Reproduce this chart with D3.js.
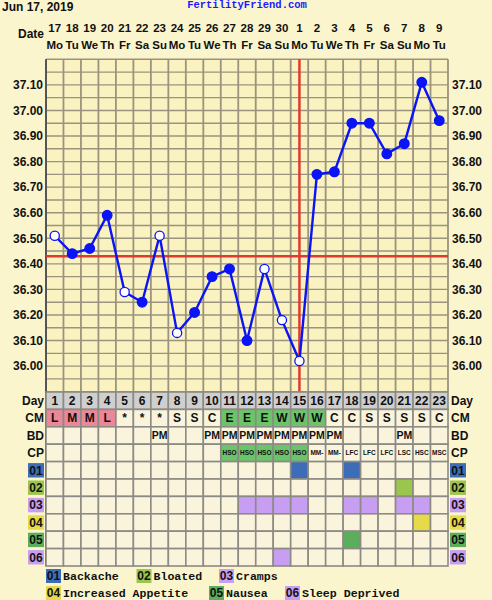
<!DOCTYPE html>
<html>
<head>
<meta charset="UTF-8">
<style>
  body { margin:0; background:#fbf5cd; }
  svg { display:block; }
  .lbl { font-family:"Liberation Sans",Arial,sans-serif; font-weight:bold; fill:#111; }
  .mono { font-family:"Liberation Mono","Courier New",monospace; font-weight:bold; }
</style>
</head>
<body>
<svg id="chart" width="492" height="600"></svg>
<script src="https://cdnjs.cloudflare.com/ajax/libs/d3/7.8.5/d3.min.js"></script>
<script>

// ---- data ----
var days = d3.range(1, 24);
var dates = [17,18,19,20,21,22,23,24,25,26,27,28,29,30,1,2,3,4,5,6,7,8,9];
var weekdays = ["Mo","Tu","We","Th","Fr","Sa","Su","Mo","Tu","We","Th","Fr","Sa","Su","Mo","Tu","We","Th","Fr","Sa","Su","Mo","Tu"];
var temps = [36.51,36.44,36.46,36.59,36.29,36.25,36.51,36.13,36.21,36.35,36.38,36.10,36.38,36.18,36.02,36.75,36.76,36.95,36.95,36.83,36.87,37.11,36.96];
var openDays = [1,5,7,8,13,14,15];
var coverline = 36.43;
var ovulationDay = 15;
var tempTicks = [36.00,36.10,36.20,36.30,36.40,36.50,36.60,36.70,36.80,36.90,37.00,37.10];

var cm = ["L","M","M","L","*","*","*","S","S","C","E","E","E","W","W","W","C","C","S","S","S","S","C"];
var bd = ["","","","","","","PM","","","PM","PM","PM","PM","PM","PM","PM","PM","","","","PM","",""];
var cp = ["","","","","","","","","","","HSO","HSO","HSO","HSO","HSO","MM-","MM-","LFC","LFC","LFC","LSC","HSC","MSC"];

var symCodes = ["01","02","03","04","05","06"];
var symNames = ["Backache","Bloated","Cramps","Increased Appetite","Nausea","Sleep Deprived"];
var symColors = ["#3d6db6","#9cc54e","#c79ef2","#e4da4a","#5cae5c","#c79ef2"];
var symDays = [[15,18],[21],[12,13,14,15,18,19,21,22],[22],[18],[14]];

var cmColor = {L:"#ec8798", M:"#ec8798", E:"#6cc46a", W:"#6cc46a"};

// ---- layout ----
var svg = d3.select("#chart");
var x = d3.scaleBand().domain(days).range([46, 448]);
var y = d3.scaleLinear().domain([35.90, 37.20]).range([391.7, 59.3]);
var rowNames = ["Day","CM","BD","CP"].concat(symCodes);
var r = d3.scaleBand().domain(rowNames).range([392, 566]);

// header
svg.append("text").attr("class","lbl").attr("x",2).attr("y",10.5)
  .style("font-size","12px").text("Jun 17, 2019");
svg.append("text").attr("class","mono").attr("x",247).attr("y",8)
  .attr("text-anchor","middle").style("font-size","10.5px").attr("fill","#1a1aff")
  .text("FertilityFriend.com");

svg.append("text").attr("class","lbl").attr("x",44).attr("y",38)
  .attr("text-anchor","end").style("font-size","12px").text("Date");
svg.append("g").selectAll("text").data(days).enter().append("text")
  .attr("class","lbl").attr("x", d => x(d) + x.bandwidth()/2).attr("y",32)
  .attr("text-anchor","middle").style("font-size","11.5px")
  .text((d,i) => dates[i]);
svg.append("g").selectAll("text").data(days).enter().append("text")
  .attr("class","lbl").attr("x", d => x(d) + x.bandwidth()/2).attr("y",49)
  .attr("text-anchor","middle").style("font-size","11.5px")
  .text((d,i) => weekdays[i]);

// plot background + grid
svg.append("rect").attr("x",46).attr("y",y(37.20)).attr("width",402)
  .attr("height", y(35.90) - y(37.20)).attr("fill","#faf2c0");

var hLines = d3.range(0, 27).map(i => 35.90 + i*0.05);
svg.append("g").selectAll("line").data(hLines).enter().append("line")
  .attr("x1",46).attr("x2",448).attr("y1", d => y(d)).attr("y2", d => y(d))
  .attr("stroke","#9a947e").attr("stroke-width",1.4);
svg.append("g").selectAll("line").data(days.concat([24])).enter().append("line")
  .attr("x1", d => d === 24 ? 448 : x(d)).attr("x2", d => d === 24 ? 448 : x(d))
  .attr("y1", y(37.20)).attr("y2", y(35.90))
  .attr("stroke","#9a947e").attr("stroke-width",1.8);
svg.append("line").attr("x1",46).attr("x2",46).attr("y1",y(37.20)).attr("y2",566)
  .attr("stroke","#555").attr("stroke-width",2);

// temperature labels, both sides
var yl = svg.append("g").attr("transform","translate(43,0)")
  .call(d3.axisLeft(y).tickValues(tempTicks).tickSize(0).tickPadding(0).tickFormat(d3.format(".2f")));
var yr = svg.append("g").attr("transform","translate(452,0)")
  .call(d3.axisRight(y).tickValues(tempTicks).tickSize(0).tickPadding(0).tickFormat(d3.format(".2f")));
[yl, yr].forEach(function(g){
  g.select(".domain").remove();
  g.selectAll("text").attr("class","lbl").style("font-size","12px").attr("fill","#111");
});

// cover line + ovulation line
svg.append("line").attr("x1",46).attr("x2",448).attr("y1",y(coverline)).attr("y2",y(coverline))
  .attr("stroke","#e03a30").attr("stroke-width",2.5);
var ox = x(ovulationDay) + x.bandwidth()/2;
svg.append("line").attr("x1",ox).attr("x2",ox).attr("y1",y(37.20)).attr("y2",y(35.90))
  .attr("stroke","#e03a30").attr("stroke-width",2.5);

// temperature line
var pts = days.map((d,i) => ({day:d, t:temps[i], open: openDays.indexOf(d) >= 0}));
var line = d3.line().x(d => x(d.day) + x.bandwidth()/2).y(d => y(d.t));
svg.append("path").datum(pts).attr("d", line).attr("fill","none")
  .attr("stroke","#0a14f5").attr("stroke-width",2.4);
svg.append("g").selectAll("circle").data(pts).enter().append("circle")
  .attr("cx", d => x(d.day) + x.bandwidth()/2).attr("cy", d => y(d.t))
  .attr("r", d => d.open ? 4.6 : 4.8)
  .attr("fill", d => d.open ? "#ffffff" : "#0a14f5")
  .attr("stroke","#0a14f5").attr("stroke-width",1.3);

// ---- table ----
var cells = [];
days.forEach(function(d,i){
  cells.push({row:"Day", day:d, fill:"#cfcfcf", text:String(d), size:"12px"});
  cells.push({row:"CM", day:d, fill: cmColor[cm[i]] || "#fbf4dd", text:cm[i], size:"12px"});
  cells.push({row:"BD", day:d, fill:"#fbf4dd", text:bd[i], size:"10.5px"});
  cells.push({row:"CP", day:d, fill: cp[i] === "HSO" ? "#6cc46a" : "#fbf4dd", text:cp[i], size:"6.5px"});
  symCodes.forEach(function(c,k){
    cells.push({row:c, day:d, fill: symDays[k].indexOf(d) >= 0 ? symColors[k] : "#fbf4dd", text:""});
  });
});
var cg = svg.append("g").selectAll("g").data(cells).enter().append("g");
cg.append("rect")
  .attr("x", d => x(d.day)).attr("y", d => r(d.row))
  .attr("width", x.bandwidth()).attr("height", r.bandwidth())
  .attr("fill", d => d.fill).attr("stroke","#8c8a84").attr("stroke-width",1.6);
cg.append("text").attr("class","lbl")
  .attr("x", d => x(d.day) + x.bandwidth()/2)
  .attr("y", d => r(d.row) + r.bandwidth()/2)
  .attr("dy","0.36em").attr("text-anchor","middle")
  .style("font-size", d => d.size || "11px")
  .text(d => d.text);

// row labels left / right
var textRows = ["Day","CM","BD","CP"];
svg.append("g").selectAll("text").data(textRows).enter().append("text")
  .attr("class","lbl").attr("x",44).attr("y", d => r(d) + r.bandwidth()/2).attr("dy","0.36em")
  .attr("text-anchor","end").style("font-size","12px").text(d => d);
svg.append("g").selectAll("text").data(textRows).enter().append("text")
  .attr("class","lbl").attr("x",451).attr("y", d => r(d) + r.bandwidth()/2).attr("dy","0.36em")
  .style("font-size","12px").text(d => d);

[[28,44],[450,466]].forEach(function(p){
  var b = svg.append("g").selectAll("g").data(symCodes).enter().append("g");
  b.append("rect").attr("x",p[0]).attr("y", d => r(d) + 1.5).attr("width",p[1]-p[0])
    .attr("height", r.bandwidth() - 3).attr("fill", (d,i) => symColors[i]);
  b.append("text").attr("class","lbl").attr("x",(p[0]+p[1])/2)
    .attr("y", d => r(d) + r.bandwidth()/2).attr("dy","0.36em")
    .attr("text-anchor","middle").style("font-size","12px").text(d => d);
});

// legend
var legPos = [[46,576],[136.5,576],[219,576],[46,593],[209,593],[285,593]];
var lg = svg.append("g").selectAll("g").data(symCodes).enter().append("g")
  .attr("transform", (d,i) => "translate(" + legPos[i][0] + "," + legPos[i][1] + ")");
lg.append("rect").attr("x",0).attr("y",-7).attr("width",15).attr("height",14)
  .attr("fill", (d,i) => symColors[i]);
lg.append("text").attr("class","lbl").attr("x",7.5).attr("dy","0.36em")
  .attr("text-anchor","middle").style("font-size","12px").text(d => d);
lg.append("text").attr("class","mono").attr("x",17).attr("dy","0.36em")
  .style("font-size","11.6px").attr("fill","#111").text((d,i) => symNames[i]);

</script>
</body>
</html>
